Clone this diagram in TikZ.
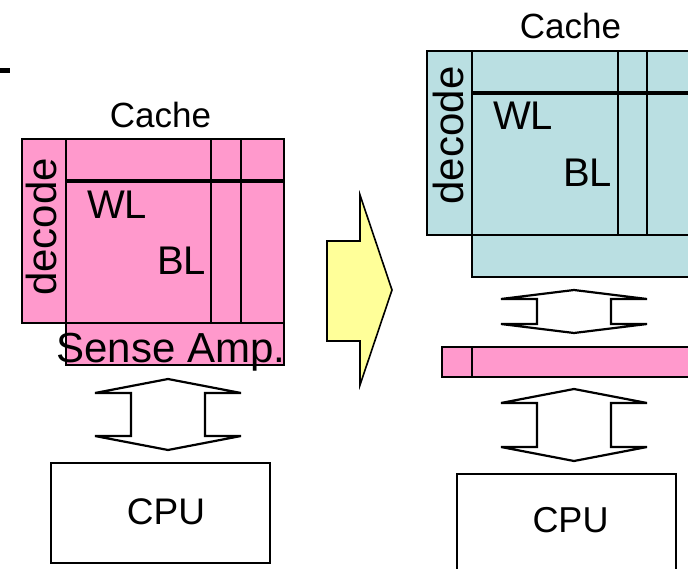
\documentclass[tikz,border=0pt]{standalone}
\usepackage{fontspec}
\setmainfont{Liberation Sans}
\definecolor{pinkc}{HTML}{FF99CC}
\definecolor{bluec}{HTML}{BADFE2}
\definecolor{yelc}{HTML}{FFFF99}
\newcommand{\dblbus}[5]{% cx, tip, wing1, wing2, bottom
  \filldraw[bus] (#1,#2) -- (#1+73,#3) -- (#1+37,#3) -- (#1+37,#4) -- (#1+73,#4)
    -- (#1,#5) -- (#1-73,#4) -- (#1-37,#4) -- (#1-37,#3) -- (#1-73,#3) -- cycle;}
\begin{document}
\begin{tikzpicture}[x=1pt,y=-1pt,line join=miter,
  blk/.style={draw=black,line width=2.2pt},
  wl/.style={draw=black,line width=4pt},
  bus/.style={draw=black,fill=white,line width=2.2pt},
  lbl/.style={inner sep=0pt,anchor=base,text=black}]
\useasboundingbox (0,0) rectangle (688,569);
\clip (0,0) rectangle (688,569);
% fragment at top left
\fill[black] (0,68) rectangle (10,73);
% ---- left cache ----
\filldraw[blk,fill=pinkc] (22,139) rectangle (66,323);
\filldraw[blk,fill=pinkc] (66,139) rectangle (284,323);
\filldraw[blk,fill=pinkc] (66,323) rectangle (284,365);
\draw[blk] (211,139) -- (211,323);
\draw[blk] (241,139) -- (241,323);
\draw[wl] (66,181) -- (284,181);
\node[lbl,font=\fontsize{35}{40}\selectfont] (cacheL) at (160.5,128) {Cache};
\node[lbl,font=\fontsize{40}{44}\selectfont] (wlL) at (117,219) {WL};
\node[lbl,font=\fontsize{40}{44}\selectfont] (blL) at (181.5,275) {BL};
\node[lbl,font=\fontsize{42}{46}\selectfont,rotate=90] (decL) at (56,227) {decode};
\node[lbl,font=\fontsize{42}{46}\selectfont] (saL) at (171,362) {Sense Amp.};
% left bus
\dblbus{168}{379}{393}{436}{450}
% left CPU
\draw[blk] (51,463) rectangle (270,563);
\node[lbl,font=\fontsize{37}{40}\selectfont] (cpuL) at (166,524) {CPU};
% ---- yellow arrow ----
\filldraw[draw=black,line width=1.6pt,fill=yelc] (327,241) -- (360,241) -- (360,195)
  -- (392,290) -- (360,385) -- (360,341) -- (327,341) -- cycle;
% ---- right cache ----
\filldraw[blk,fill=bluec] (427,51) rectangle (472,235);
\filldraw[blk,fill=bluec] (472,51) rectangle (700,235);
\filldraw[blk,fill=bluec] (472,235) rectangle (700,277);
\draw[blk] (618,51) -- (618,235);
\draw[blk] (647,51) -- (647,235);
\draw[wl] (472,93) -- (700,93);
\node[lbl,font=\fontsize{35}{40}\selectfont] (cacheR) at (570.5,39) {Cache};
\node[lbl,font=\fontsize{40}{44}\selectfont] (wlR) at (523,130) {WL};
\node[lbl,font=\fontsize{40}{44}\selectfont] (blR) at (587.5,187) {BL};
\node[lbl,font=\fontsize{42}{46}\selectfont,rotate=90] (decR) at (463,135.5) {decode};
% right buses and bar
\dblbus{574}{290}{299}{324}{333}
\filldraw[blk,fill=pinkc] (442,347) rectangle (700,377);
\draw[blk] (472,347) -- (472,377);
\dblbus{574}{389}{403}{447}{461}
% right CPU
\draw[blk] (457,474) rectangle (676,590);
\node[lbl,font=\fontsize{36}{40}\selectfont] (cpuR) at (570.5,532) {CPU};
\end{tikzpicture}
\end{document}
